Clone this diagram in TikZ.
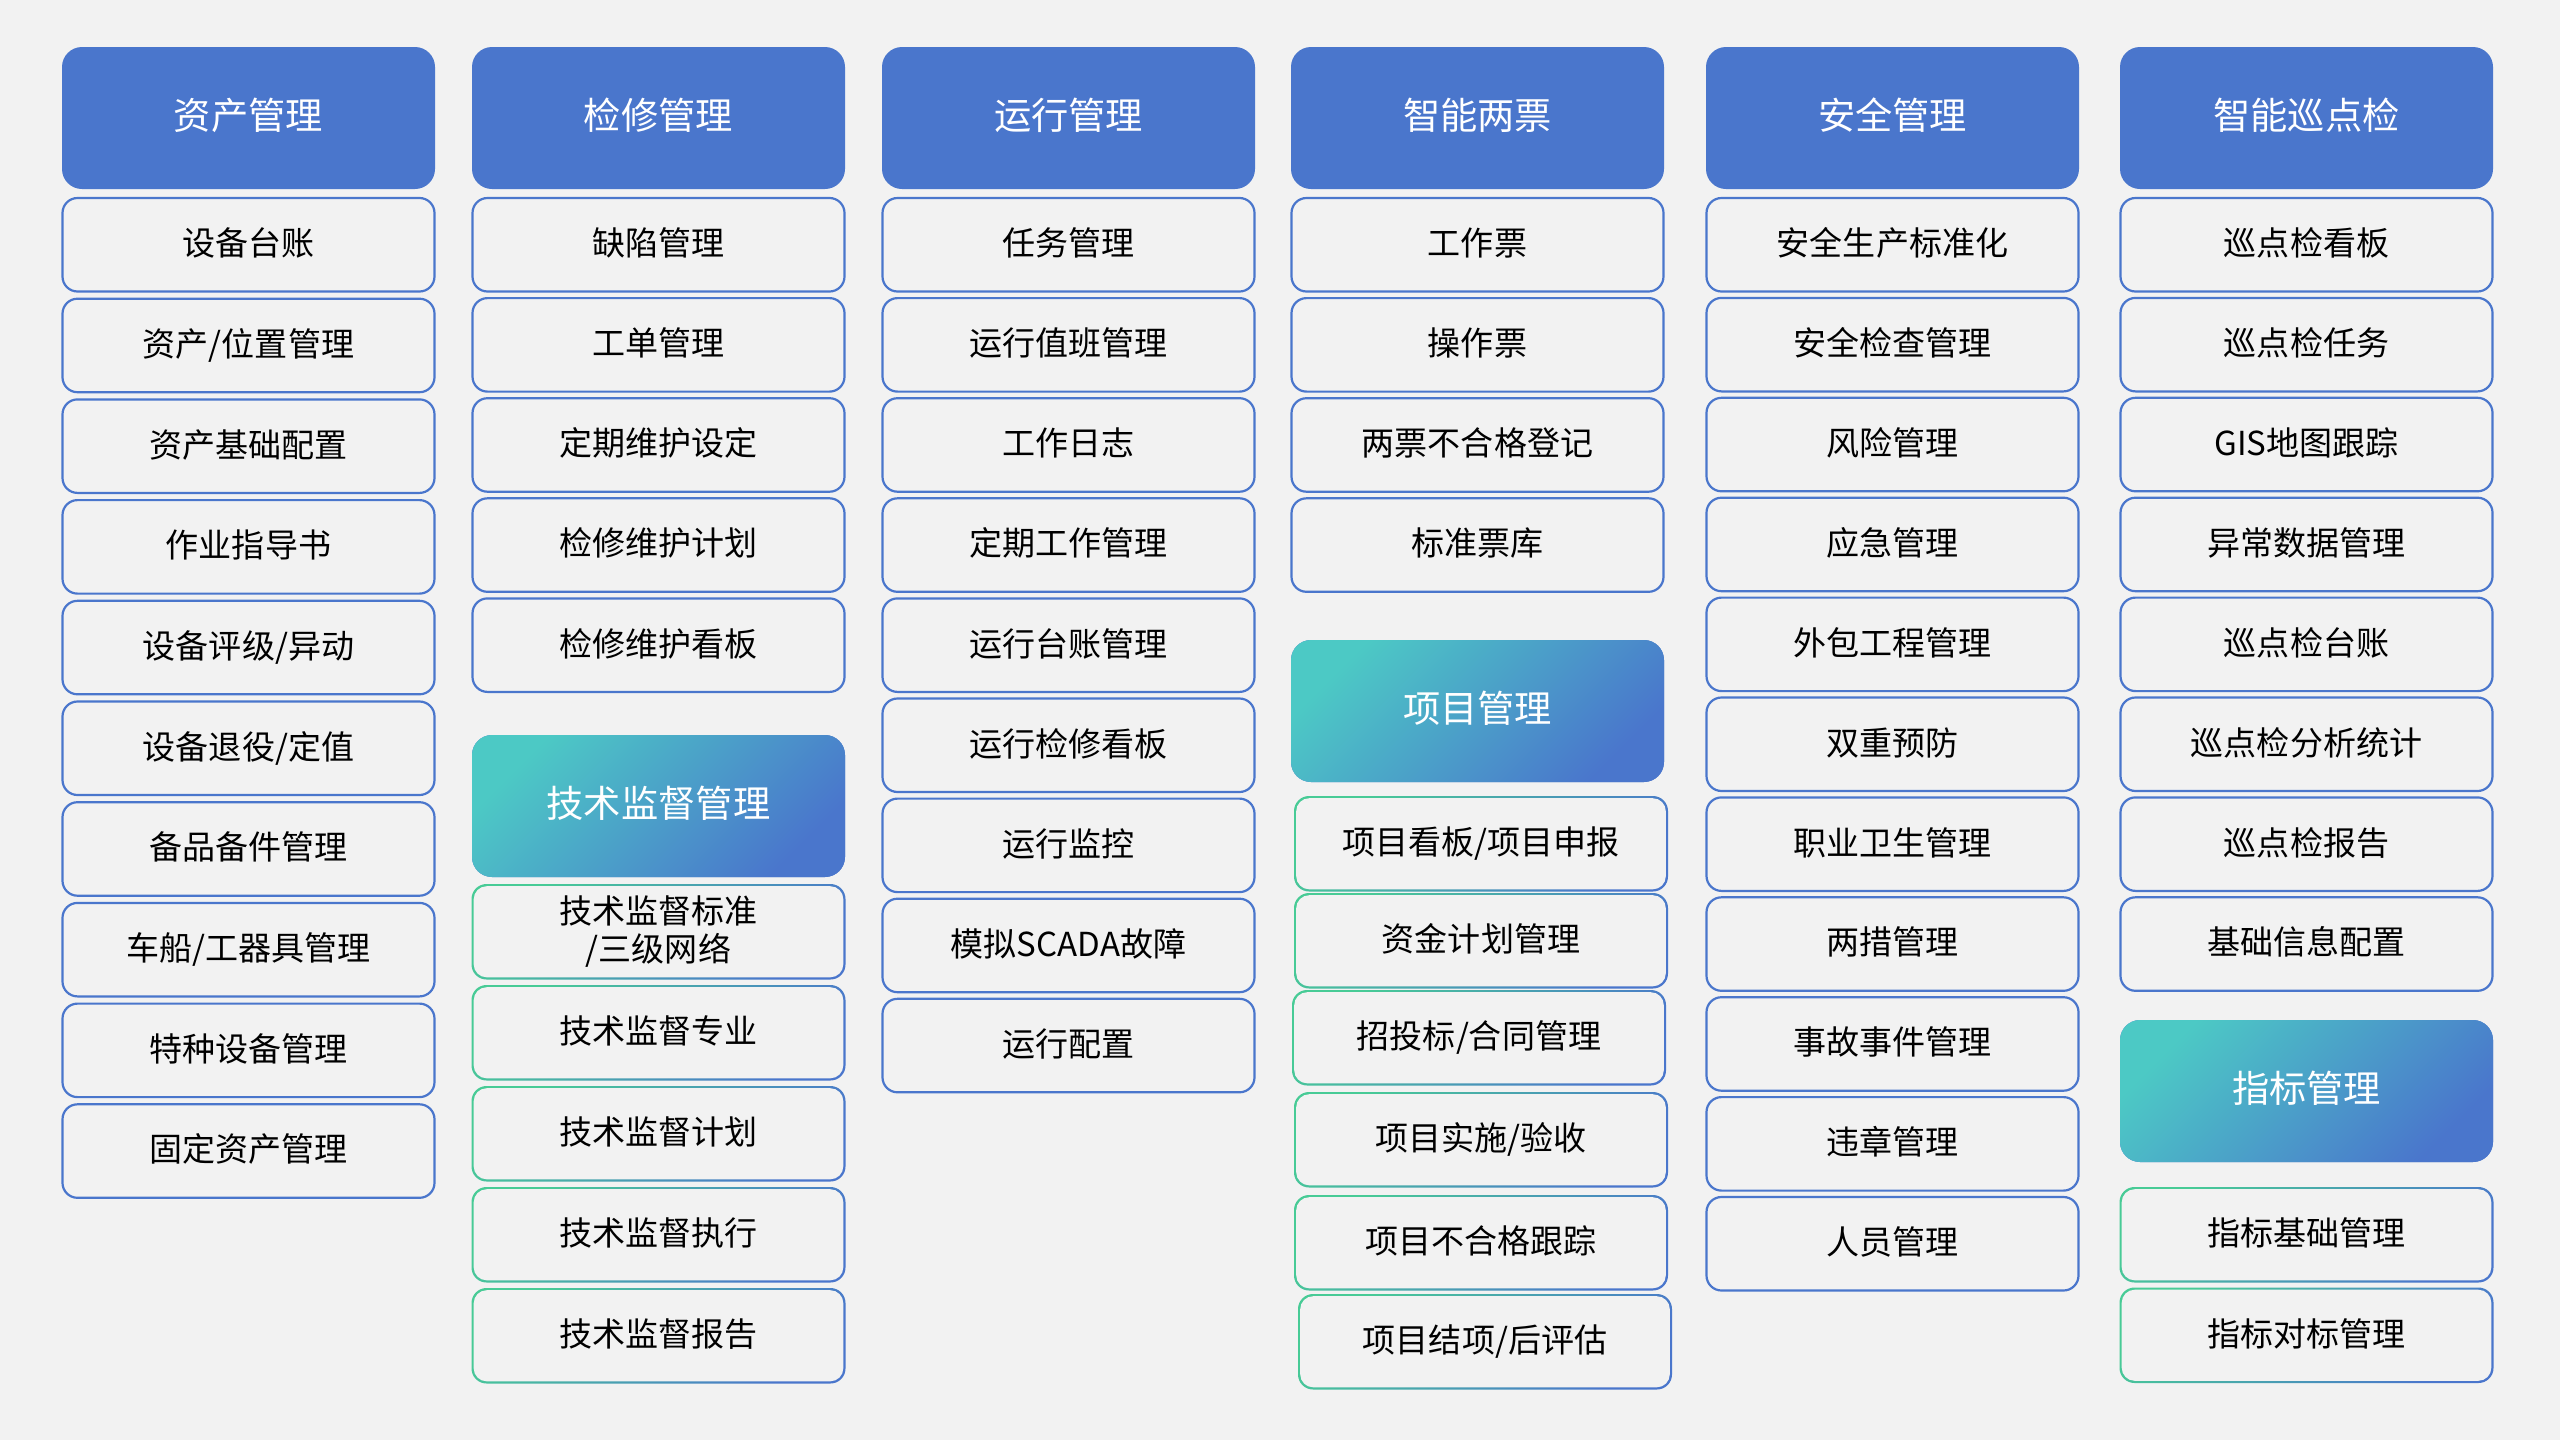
\documentclass[tikz,border=0pt]{standalone}
\usepackage{fontspec}
\setmainfont{Noto Sans CJK SC}
\usepackage{xcolor}
\usepackage{tikz}
\usetikzlibrary{positioning}
\definecolor{pagebg}{HTML}{F2F2F2}
\definecolor{headblue}{HTML}{4A76CC}
\definecolor{headteal}{HTML}{4CC9C5}
\definecolor{framegreen}{HTML}{48CB96}
\tikzset{
  headbox/.style={fill=headblue,rounded corners=0.2cm,anchor=north west,
    minimum width=3.73cm,minimum height=1.42cm,inner sep=0pt,outer sep=0pt,
    text height=0.83em,text depth=0.15em,
    text=white,font=\fontsize{10.6}{12}\selectfont},
  gradhead/.style={headbox,top color=headteal,bottom color=headblue,shading angle=45},
  itembox/.style={draw=headblue,line width=0.022cm,fill=pagebg,rounded corners=0.15cm,
    minimum width=3.72cm,minimum height=0.935cm,inner sep=0pt,outer sep=0pt,
    text height=0.83em,text depth=0.21em,
    align=center,font=\fontsize{9.4}{10.8}\selectfont},
  gradbox/.style={rounded corners=0.15cm,minimum width=3.74cm,minimum height=0.955cm,
    inner sep=0pt,outer sep=0pt,align=center,font=\fontsize{9.4}{10.8}\selectfont,
    text height=0.83em,text depth=0.21em,
    top color=framegreen,bottom color=headblue,shading angle=45,
    path picture={\fill[pagebg,rounded corners=0.13cm]
      ([shift={(0.022cm,0.022cm)}]path picture bounding box.south west) rectangle
      ([shift={(-0.022cm,-0.022cm)}]path picture bounding box.north east);}}
}
\begin{document}
\begin{tikzpicture}[node distance=0.066cm]
  \fill[pagebg] (0,0) rectangle (25.6,-14.4);
  \useasboundingbox (0,0) rectangle (25.6,-14.4);
  % 资产管理
  \begin{scope}[node distance=0.072cm]
  \node[headbox] (zc) at (0.62,-0.47) {资产管理};
  \node[itembox,below=0.09cm of zc] (zc1) {设备台账};
  \node[itembox,below=of zc1] (zc2) {资产/位置管理};
  \node[itembox,below=of zc2] (zc3) {资产基础配置};
  \node[itembox,below=of zc3] (zc4) {作业指导书};
  \node[itembox,below=of zc4] (zc5) {设备评级/异动};
  \node[itembox,below=of zc5] (zc6) {设备退役/定值};
  \node[itembox,below=of zc6] (zc7) {备品备件管理};
  \node[itembox,below=of zc7] (zc8) {车船/工器具管理};
  \node[itembox,below=of zc8] (zc9) {特种设备管理};
  \node[itembox,below=of zc9] (zc10) {固定资产管理};
  \end{scope}
  % 检修管理 + 技术监督管理
  \node[headbox] (jx) at (4.72,-0.47) {检修管理};
  \node[itembox,below=0.09cm of jx] (jx1) {缺陷管理};
  \node[itembox,below=of jx1] (jx2) {工单管理};
  \node[itembox,below=of jx2] (jx3) {定期维护设定};
  \node[itembox,below=of jx3] (jx4) {检修维护计划};
  \node[itembox,below=of jx4] (jx5) {检修维护看板};
  \node[gradhead] (js) at (4.72,-7.35) {技术监督管理};
  \node[gradbox,text height=,text depth=,below=0.07cm of js] (js1) {技术监督标准\\/三级网络};
  \node[gradbox,below=0.055cm of js1] (js2) {技术监督专业};
  \node[gradbox,below=0.055cm of js2] (js3) {技术监督计划};
  \node[gradbox,below=0.055cm of js3] (js4) {技术监督执行};
  \node[gradbox,below=0.055cm of js4] (js5) {技术监督报告};
  % 运行管理
  \node[headbox] (yx) at (8.82,-0.47) {运行管理};
  \node[itembox,below=0.09cm of yx] (yx1) {任务管理};
  \node[itembox,below=of yx1] (yx2) {运行值班管理};
  \node[itembox,below=of yx2] (yx3) {工作日志};
  \node[itembox,below=of yx3] (yx4) {定期工作管理};
  \node[itembox,below=of yx4] (yx5) {运行台账管理};
  \node[itembox,below=of yx5] (yx6) {运行检修看板};
  \node[itembox,below=of yx6] (yx7) {运行监控};
  \node[itembox,below=of yx7] (yx8) {模拟SCADA故障};
  \node[itembox,below=of yx8] (yx9) {运行配置};
  % 智能两票 + 项目管理
  \node[headbox] (lp) at (12.91,-0.47) {智能两票};
  \node[itembox,below=0.09cm of lp] (lp1) {工作票};
  \node[itembox,below=of lp1] (lp2) {操作票};
  \node[itembox,below=of lp2] (lp3) {两票不合格登记};
  \node[itembox,below=of lp3] (lp4) {标准票库};
  \node[gradhead] (xm) at (12.91,-6.40) {项目管理};
  \node[gradbox,anchor=north west] (xm1) at (12.94,-7.96) {项目看板/项目申报};
  \node[gradbox,anchor=north west] (xm2) at (12.94,-8.93) {资金计划管理};
  \node[gradbox,anchor=north west] (xm3) at (12.92,-9.90) {招投标/合同管理};
  \node[gradbox,anchor=north west] (xm4) at (12.94,-10.92) {项目实施/验收};
  \node[gradbox,anchor=north west] (xm5) at (12.94,-11.95) {项目不合格跟踪};
  \node[gradbox,anchor=north west] (xm6) at (12.98,-12.94) {项目结项/后评估};
  % 安全管理
  \begin{scope}[node distance=0.064cm]
  \node[headbox] (aq) at (17.06,-0.47) {安全管理};
  \node[itembox,below=0.09cm of aq] (aq1) {安全生产标准化};
  \node[itembox,below=of aq1] (aq2) {安全检查管理};
  \node[itembox,below=of aq2] (aq3) {风险管理};
  \node[itembox,below=of aq3] (aq4) {应急管理};
  \node[itembox,below=of aq4] (aq5) {外包工程管理};
  \node[itembox,below=of aq5] (aq6) {双重预防};
  \node[itembox,below=of aq6] (aq7) {职业卫生管理};
  \node[itembox,below=of aq7] (aq8) {两措管理};
  \node[itembox,below=of aq8] (aq9) {事故事件管理};
  \node[itembox,below=of aq9] (aq10) {违章管理};
  \node[itembox,below=of aq10] (aq11) {人员管理};
  \end{scope}
  % 智能巡点检 + 指标管理
  \begin{scope}[node distance=0.064cm]
  \node[headbox] (xj) at (21.20,-0.47) {智能巡点检};
  \node[itembox,below=0.09cm of xj] (xj1) {巡点检看板};
  \node[itembox,below=of xj1] (xj2) {巡点检任务};
  \node[itembox,below=of xj2] (xj3) {GIS地图跟踪};
  \node[itembox,below=of xj3] (xj4) {异常数据管理};
  \node[itembox,below=of xj4] (xj5) {巡点检台账};
  \node[itembox,below=of xj5] (xj6) {巡点检分析统计};
  \node[itembox,below=of xj6] (xj7) {巡点检报告};
  \node[itembox,below=of xj7] (xj8) {基础信息配置};
  \end{scope}
  \node[gradhead] (zb) at (21.20,-10.20) {指标管理};
  \node[gradbox,below=0.25cm of zb] (zb1) {指标基础管理};
  \node[gradbox,below=0.05cm of zb1] (zb2) {指标对标管理};
\end{tikzpicture}
\end{document}
